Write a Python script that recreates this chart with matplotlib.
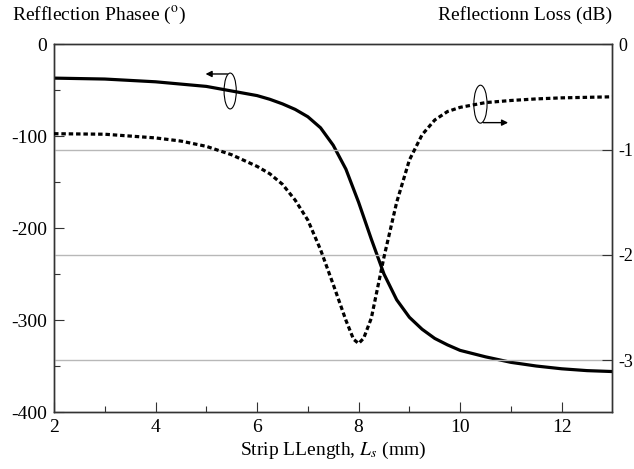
import matplotlib.pyplot as plt
from matplotlib.patches import Ellipse

plt.rcParams['font.family'] = ['Liberation Serif', 'DejaVu Serif']
plt.rcParams['mathtext.fontset'] = 'stix'

# strip length (mm) vs reflection phase (deg)
ls_phase = [2, 3, 4, 5, 5.5, 6, 6.25, 6.5, 6.75, 7, 7.25, 7.5, 7.75, 8, 8.25, 8.5,
            8.75, 9, 9.25, 9.5, 9.75, 10, 10.5, 11, 11.5, 12, 12.5, 13]
phase = [-37, -38, -41, -46, -51, -56, -60, -65, -71, -79, -91, -110, -136, -172, -212, -250,
         -278, -297, -310, -320, -327, -333, -340, -346, -350, -353, -355, -356]

# strip length (mm) vs reflection loss (dB)
ls_loss = [2, 3, 4, 4.5, 5, 5.5, 6, 6.25, 6.5, 6.75, 7, 7.25, 7.5, 7.75, 7.9, 8, 8.1, 8.25,
           8.5, 8.75, 9, 9.25, 9.5, 9.75, 10, 10.5, 11, 11.5, 12, 12.5, 13]
loss = [-0.85, -0.855, -0.89, -0.92, -0.97, -1.05, -1.16, -1.23, -1.33, -1.48, -1.67, -1.95,
        -2.28, -2.62, -2.80, -2.84, -2.79, -2.60, -2.02, -1.50, -1.10, -0.86, -0.72, -0.64,
        -0.60, -0.555, -0.535, -0.52, -0.51, -0.505, -0.50]

x_ticks = [2, 4, 6, 8, 10, 12]
phase_ticks = [0, -100, -200, -300, -400]
loss_ticks = [0, -1, -2, -3]

fig = plt.figure(figsize=(6.34, 4.69), dpi=100)
ax = fig.add_axes([0.0852, 0.1215, 0.8808, 0.7845])
ax2 = ax.twinx()

# grey reference lines at the loss ticks
for v in loss_ticks[1:]:
    ax2.axhline(v, color='#b8b8b8', lw=1.0, zorder=0)

ax.plot(ls_phase, phase, color='black', lw=2.3, zorder=3)
ax2.plot(ls_loss, loss, color='black', lw=2.3, linestyle=(0, (1.4, 0.9)),
         dash_capstyle='butt', zorder=3)

ax.set_xlim(2, 13)
ax.set_ylim(-400, 0)
ax2.set_ylim(-3.49, 0)

ax.set_xticks(x_ticks)
ax.set_xticks([3, 5, 7, 9, 11], minor=True)
ax.set_yticks(phase_ticks)
ax.set_yticks([-50, -150, -250, -350], minor=True)
ax.set_yticklabels([str(v) for v in phase_ticks])
ax2.set_yticks(loss_ticks)
ax2.set_yticklabels([str(v) for v in loss_ticks])

for a in (ax, ax2):
    a.tick_params(which='both', direction='in', labelsize=14, color='#333333', width=0.8)
    a.tick_params(which='major', length=7)
    a.tick_params(which='minor', length=4)
    for s in a.spines.values():
        s.set_color('#333333')
        s.set_linewidth(1.0)
ax.tick_params(axis='x', pad=5)
ax.tick_params(axis='y', pad=5)
ax2.tick_params(axis='y', pad=4, labelsize=13)

ax.set_xlabel('Strip LLength, $L_s$ (mm)', fontsize=14, labelpad=3)
fig.text(0.019, 0.968, 'Refflection Phasee ($^{\\rm o}$)', fontsize=14, ha='left', va='center')
fig.text(0.966, 0.968, 'Reflectionn Loss (dB)', fontsize=14, ha='right', va='center')

# axis indicators: ellipse with arrow
ax.add_patch(Ellipse((5.47, -51), 0.24, 39, fill=False, lw=0.8, color='black', zorder=4))
ax.annotate('', xy=(4.93, -32.5), xytext=(5.47, -32.5),
            arrowprops=dict(arrowstyle='-|>', color='black', lw=1.0, mutation_scale=9))
ax2.add_patch(Ellipse((10.4, -0.57), 0.26, 0.36, fill=False, lw=0.8, color='black', zorder=4))
ax2.annotate('', xy=(11.0, -0.745), xytext=(10.4, -0.745),
             arrowprops=dict(arrowstyle='-|>', color='black', lw=1.0, mutation_scale=9))

fig.savefig('out.png', dpi=100)
